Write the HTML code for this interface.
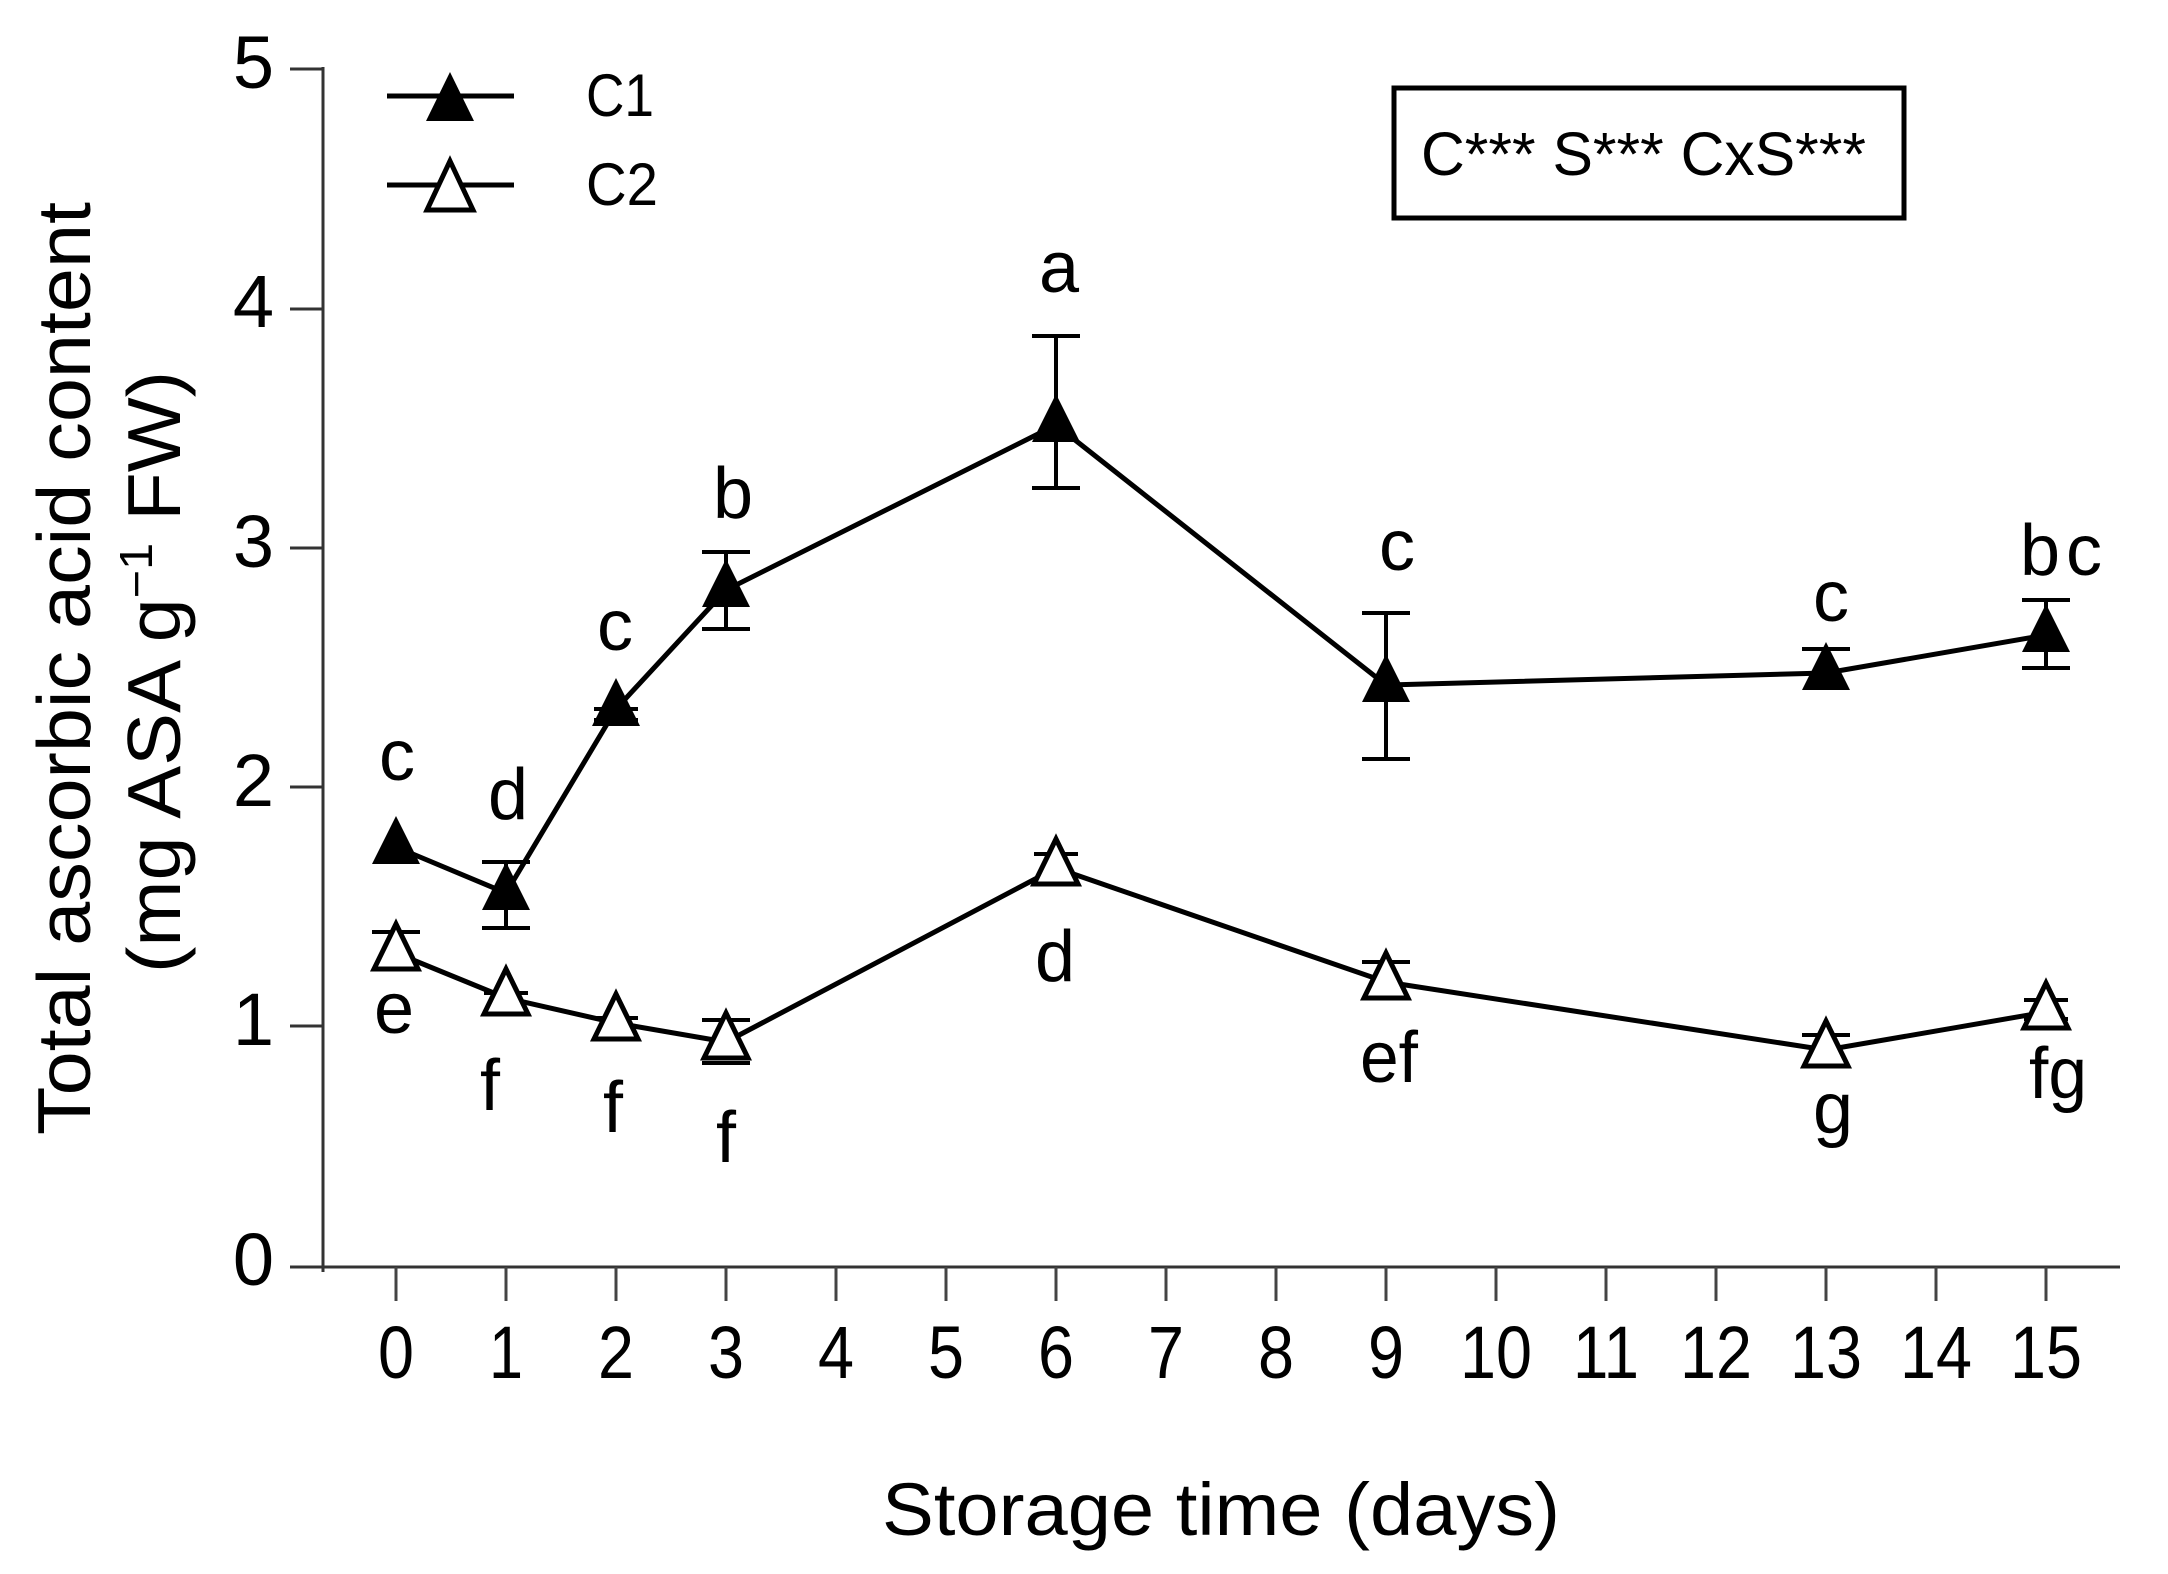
<!DOCTYPE html>
<html><head><meta charset="utf-8"><style>
html,body{margin:0;padding:0;background:#fff}
svg{display:block}
text{font-family:"Liberation Sans",Arial,sans-serif;fill:#000}
</style></head><body>
<svg width="2168" height="1574" viewBox="0 0 2168 1574" xmlns="http://www.w3.org/2000/svg">
<defs>
<path id="tf" d="M0,-31 L24,17 L-24,17 Z" fill="#000"/>
<path id="to" d="M0,-29 L22,16 L-22,16 Z" fill="#fff" stroke="#000" stroke-width="5" stroke-linejoin="miter"/>
</defs>
<g stroke="#333" stroke-width="3" fill="none">
<line x1="323" y1="67" x2="323" y2="1272"/>
<line x1="290" y1="1267" x2="2120" y2="1267"/>
<line x1="290" y1="69" x2="323" y2="69"/>
<line x1="290" y1="309" x2="323" y2="309"/>
<line x1="290" y1="548" x2="323" y2="548"/>
<line x1="290" y1="787" x2="323" y2="787"/>
<line x1="290" y1="1026" x2="323" y2="1026"/>
</g>
<g stroke="#444" stroke-width="3">
<line x1="396" y1="1267" x2="396" y2="1301"/><line x1="506" y1="1267" x2="506" y2="1301"/>
<line x1="616" y1="1267" x2="616" y2="1301"/><line x1="726" y1="1267" x2="726" y2="1301"/>
<line x1="836" y1="1267" x2="836" y2="1301"/><line x1="946" y1="1267" x2="946" y2="1301"/>
<line x1="1056" y1="1267" x2="1056" y2="1301"/><line x1="1166" y1="1267" x2="1166" y2="1301"/>
<line x1="1276" y1="1267" x2="1276" y2="1301"/><line x1="1386" y1="1267" x2="1386" y2="1301"/>
<line x1="1496" y1="1267" x2="1496" y2="1301"/><line x1="1606" y1="1267" x2="1606" y2="1301"/>
<line x1="1716" y1="1267" x2="1716" y2="1301"/><line x1="1826" y1="1267" x2="1826" y2="1301"/>
<line x1="1936" y1="1267" x2="1936" y2="1301"/><line x1="2046" y1="1267" x2="2046" y2="1301"/>
</g>
<g font-size="74" text-anchor="end">
<text x="274" y="88">5</text><text x="274" y="327">4</text><text x="274" y="567">3</text>
<text x="274" y="806">2</text><text x="274" y="1045">1</text><text x="274" y="1285">0</text>
</g>
<g font-size="74" text-anchor="middle">
<text x="396" y="1378" textLength="36" lengthAdjust="spacingAndGlyphs">0</text>
<text x="506" y="1378" textLength="34" lengthAdjust="spacingAndGlyphs">1</text>
<text x="616" y="1378" textLength="36" lengthAdjust="spacingAndGlyphs">2</text>
<text x="726" y="1378" textLength="36" lengthAdjust="spacingAndGlyphs">3</text>
<text x="836" y="1378" textLength="36" lengthAdjust="spacingAndGlyphs">4</text>
<text x="946" y="1378" textLength="36" lengthAdjust="spacingAndGlyphs">5</text>
<text x="1056" y="1378" textLength="36" lengthAdjust="spacingAndGlyphs">6</text>
<text x="1166" y="1378" textLength="36" lengthAdjust="spacingAndGlyphs">7</text>
<text x="1276" y="1378" textLength="36" lengthAdjust="spacingAndGlyphs">8</text>
<text x="1386" y="1378" textLength="36" lengthAdjust="spacingAndGlyphs">9</text>
<text x="1496" y="1378" textLength="72" lengthAdjust="spacingAndGlyphs">10</text>
<text x="1606" y="1378" textLength="66" lengthAdjust="spacingAndGlyphs">11</text>
<text x="1716" y="1378" textLength="72" lengthAdjust="spacingAndGlyphs">12</text>
<text x="1826" y="1378" textLength="72" lengthAdjust="spacingAndGlyphs">13</text>
<text x="1936" y="1378" textLength="72" lengthAdjust="spacingAndGlyphs">14</text>
<text x="2046" y="1378" textLength="72" lengthAdjust="spacingAndGlyphs">15</text>
</g>
<text x="882" y="1535" font-size="74" textLength="678" lengthAdjust="spacingAndGlyphs">Storage time (days)</text>
<text transform="translate(90,1135) rotate(-90)" font-size="75" textLength="933" lengthAdjust="spacingAndGlyphs">Total ascorbic acid content</text>
<text transform="translate(180,973) rotate(-90)" font-size="75" textLength="602" lengthAdjust="spacingAndGlyphs">(mg ASA g<tspan dy="-28" font-size="46">−1</tspan><tspan dy="28"> FW)</tspan></text>
<g stroke="#000" stroke-width="5">
<line x1="387" y1="96" x2="514" y2="96"/><line x1="387" y1="185" x2="514" y2="185"/>
</g>
<path d="M450,72 L474,121 L426,121 Z" fill="#000"/>
<path d="M450,161 L473,210 L427,210 Z" fill="#fff" stroke="#000" stroke-width="5"/>
<text x="586" y="116" font-size="60" textLength="68" lengthAdjust="spacingAndGlyphs">C1</text>
<text x="586" y="205" font-size="60" textLength="72" lengthAdjust="spacingAndGlyphs">C2</text>
<rect x="1394" y="88" width="510" height="130" fill="none" stroke="#000" stroke-width="5"/>
<text x="1421" y="175" font-size="61" textLength="445" lengthAdjust="spacingAndGlyphs">C*** S*** CxS***</text>
<g stroke="#000" stroke-width="4" fill="none">
<path d="M506,862V928M482,862H530M482,928H530"/>
<path d="M594,709H638M594,720H638"/>
<path d="M726,552V629M702,552H750M702,629H750"/>
<path d="M1056,336V488M1032,336H1080M1032,488H1080"/>
<path d="M1386,613V759M1362,613H1410M1362,759H1410"/>
<path d="M1826,649V673M1802,649H1850"/>
<path d="M2046,600V668M2022,600H2070M2022,668H2070"/>
</g>
<g stroke="#000" stroke-width="4" fill="none">
<path d="M396,932V953M372,932H420"/>
<path d="M506,993V1000M484,993H528"/>
<path d="M616,1018V1023M594,1018H638"/>
<path d="M726,1020V1042M702,1020H750M702,1063H750"/>
<path d="M1056,854V868M1034,854H1078"/>
<path d="M1386,962V982M1362,962H1410"/>
<path d="M1826,1035V1050M1802,1035H1850"/>
<path d="M2046,1000V1020M2024,1000H2068M2024,1019H2068"/>
</g>
<polyline fill="none" stroke="#000" stroke-width="5" points="396,847 506,893 616,709 726,590 1056,425 1386,685 1826,673 2046,635"/>
<polyline fill="none" stroke="#000" stroke-width="5" points="396,953 506,998 616,1023 726,1042 1056,868 1386,982 1826,1050 2046,1012"/>
<use href="#tf" x="396" y="847"/><use href="#tf" x="506" y="893"/><use href="#tf" x="616" y="709"/>
<use href="#tf" x="726" y="590"/><use href="#tf" x="1056" y="425"/><use href="#tf" x="1386" y="685"/>
<use href="#tf" x="1826" y="673"/><use href="#tf" x="2046" y="635"/>
<use href="#to" x="396" y="953"/><use href="#to" x="506" y="998"/><use href="#to" x="616" y="1023"/>
<use href="#to" x="726" y="1042"/><use href="#to" x="1056" y="868"/><use href="#to" x="1386" y="982"/>
<use href="#to" x="1826" y="1050"/><use href="#to" x="2046" y="1012"/>
<g font-size="72" text-anchor="middle">
<text x="397" y="780">c</text><text x="508" y="819">d</text><text x="615" y="650">c</text>
<text x="733" y="518">b</text><text x="1059" y="292">a</text><text x="1397" y="570">c</text>
<text x="1831" y="621">c</text>
<text x="2061" y="575" textLength="82" lengthAdjust="spacing">bc</text>
<text x="394" y="1033">e</text><text x="490" y="1110">f</text><text x="613" y="1132">f</text>
<text x="726" y="1162">f</text><text x="1055" y="981">d</text>
<text x="1389" y="1082" textLength="58" lengthAdjust="spacingAndGlyphs">ef</text>
<text x="1833" y="1133">g</text>
<text x="2058" y="1098" textLength="58" lengthAdjust="spacingAndGlyphs">fg</text>
</g>
</svg>
</body></html>
